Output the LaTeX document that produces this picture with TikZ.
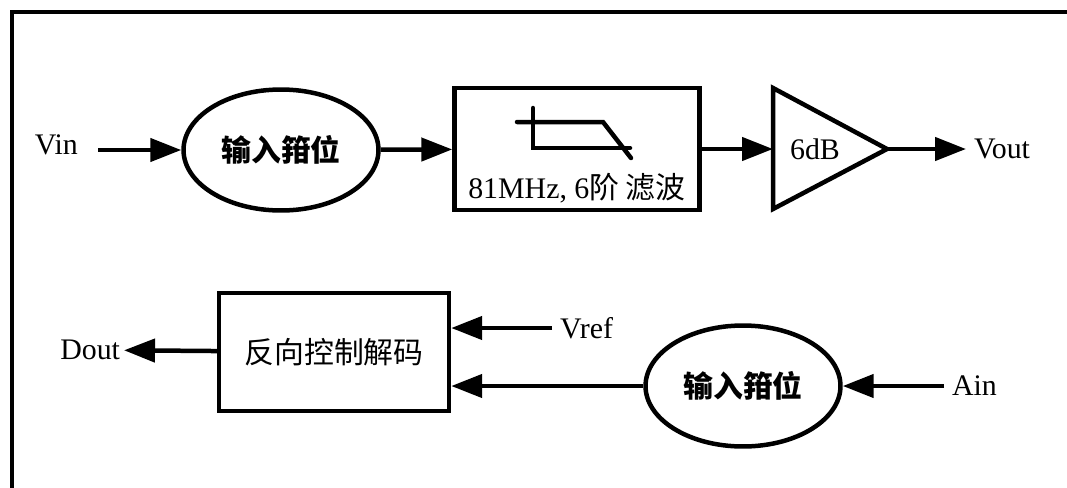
\documentclass[tikz,border=0pt]{standalone}
\usepackage{fontspec}
\setmainfont{Liberation Serif}
\newfontfamily\cjk{Noto Sans CJK SC}
\usetikzlibrary{shapes.geometric,arrows.meta,positioning}

\begin{document}
\begin{tikzpicture}[x=0.02cm,y=-0.02cm,line width=0.09cm,
  font=\fontsize{17}{20}\selectfont,
  clamp/.style={ellipse,draw,minimum width=3.9cm,minimum height=2.42cm,font=\fontsize{17}{20}\selectfont\cjk\bfseries},
  block/.style={rectangle,draw,inner sep=0pt},
  arr/.style={-{Triangle[length=0.62cm,width=0.46cm]}}]
  \useasboundingbox (0,0) rectangle (1067,487);
  \draw (12,500) -- (12,12) -- (1080,12);
  % upper chain
  \node[clamp] (clampa) at (281,150) {输入箝位};
  \node[block,minimum width=4.9cm,minimum height=2.44cm] (filter) at (577,149) {};
  \node (ftxt) at (577,188) {81MHz, 6{\cjk 阶 滤波}};
  \draw[line cap=round] (517,122) -- (603,122) -- (631,158);
  \draw[line cap=round] (533,108) -- (533,148) -- (630,148);
  \draw[line join=miter] (773,88) -- (887,149) -- (773,209) -- cycle;
  \coordinate (ampin) at (773,149);
  \coordinate (ampout) at (887,149);
  \node (amp) at (815,149) {6dB};
  \node[anchor=east] (vin) at (86,145) {Vin};
  \coordinate (vinend) at (98,150);
  \node[anchor=west] (vout) at (966,149) {Vout};
  \draw[arr] (vinend) -- (clampa.west);
  \draw[arr] (clampa) -- (filter);
  \draw[arr] (filter) -- (ampin);
  \draw[arr] (ampout) -- (vout);
  % lower chain
  \node[block,minimum width=4.6cm,minimum height=2.36cm,font=\fontsize{17}{20}\selectfont\cjk] (decode) at (334,352) {反向控制解码};
  \node[clamp] (clampb) at (743,386) {输入箝位};
  \node[anchor=east,inner sep=1pt] (dout) at (124,350) {Dout};
  \node[anchor=west] (vref) at (552,328) {Vref};
  \node[anchor=west] (ain) at (944,386) {Ain};
  \draw[arr] (decode) -- (dout);
  \draw[arr] (vref.west) -- (vref.west -| decode.east);
  \draw[arr] (clampb.west) -- (clampb.west -| decode.east);
  \draw[arr] (ain.west) -- (clampb.east);
\end{tikzpicture}
\end{document}
